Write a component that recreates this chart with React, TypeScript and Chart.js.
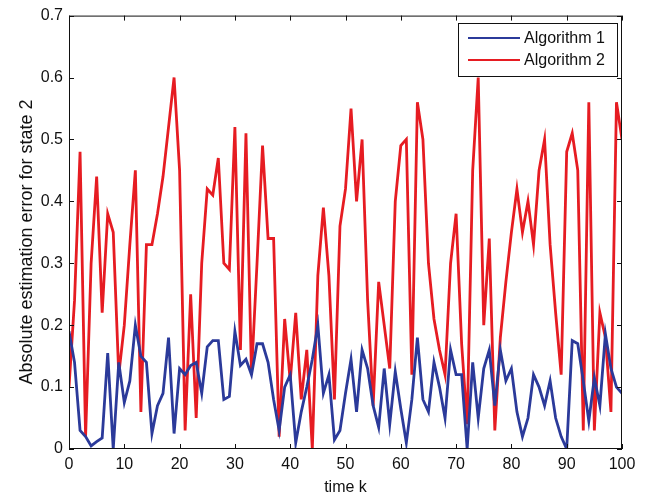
import React, { useEffect, useRef } from "react";
import { Chart, registerables } from "chart.js";

Chart.register(...registerables);

const seriesNames = ["Algorithm 1", "Algorithm 2"];
const seriesColors = ["#2b3a9a", "#e61c22"];

const algorithm1 = [
  0.19, 0.14, 0.03, 0.02, 0.005, 0.012, 0.018, 0.155, 0.0, 0.14,
  0.075, 0.11, 0.2, 0.15, 0.14, 0.025, 0.07, 0.09, 0.18, 0.025,
  0.13, 0.12, 0.135, 0.14, 0.09, 0.165, 0.175, 0.175, 0.08, 0.085,
  0.19, 0.135, 0.145, 0.12, 0.17, 0.17, 0.14, 0.08, 0.03, 0.1,
  0.12, 0.01, 0.06, 0.1, 0.145, 0.2, 0.09, 0.12, 0.015, 0.03,
  0.09, 0.145, 0.06, 0.16, 0.13, 0.07, 0.035, 0.13, 0.04, 0.125,
  0.065, 0.01, 0.08, 0.18, 0.08, 0.06, 0.14, 0.1, 0.05, 0.16,
  0.12, 0.12, 0.0, 0.14, 0.05, 0.13, 0.16, 0.07, 0.16, 0.11,
  0.13, 0.06, 0.02, 0.05, 0.12, 0.1, 0.07, 0.11, 0.05, 0.02,
  0.0, 0.175, 0.17, 0.11, 0.045, 0.115, 0.07, 0.186, 0.13, 0.1,
  0.09,
];

const algorithm2 = [
  0.1, 0.24, 0.48, 0.02, 0.3, 0.44, 0.22, 0.38, 0.35, 0.12,
  0.2, 0.33, 0.45, 0.06, 0.33, 0.33, 0.38, 0.44, 0.52, 0.6,
  0.45, 0.03, 0.25, 0.05, 0.3, 0.42, 0.41, 0.47, 0.3, 0.29,
  0.52, 0.16, 0.51, 0.12, 0.3, 0.49, 0.34, 0.34, 0.02, 0.21,
  0.11, 0.22, 0.08, 0.16, 0.0, 0.28, 0.39, 0.28, 0.08, 0.36,
  0.42, 0.55, 0.4, 0.5, 0.24, 0.07, 0.27, 0.2, 0.13, 0.4,
  0.49, 0.5, 0.12, 0.56, 0.5, 0.3, 0.21, 0.16, 0.12, 0.3,
  0.38, 0.17, 0.04, 0.45, 0.6, 0.2, 0.34, 0.03, 0.18, 0.27,
  0.35, 0.42, 0.35, 0.4, 0.33, 0.45, 0.5, 0.33, 0.22, 0.12,
  0.48, 0.51, 0.45, 0.03, 0.56, 0.03, 0.22, 0.18, 0.06, 0.56,
  0.5,
];

const xTicks = [0, 10, 20, 30, 40, 50, 60, 70, 80, 90, 100];
const yTicks = [0, 0.1, 0.2, 0.3, 0.4, 0.5, 0.6, 0.7];
const xTitle = "time k";
const yTitle = "Absolute estimation error for state 2";

const FONT = "'Liberation Sans', Arial, sans-serif";

const framePlugin = {
  id: "matlabFrame",
  afterDraw(chart: any) {
    const { ctx } = chart;
    ctx.save();
    ctx.translate(27, 242);
    ctx.rotate(-Math.PI / 2);
    ctx.font = `18px ${FONT}`;
    ctx.fillStyle = "#111";
    ctx.textAlign = "center";
    ctx.textBaseline = "middle";
    ctx.fillText(yTitle, 0, 0);
    ctx.restore();
  },
  afterDatasetsDraw(chart: any) {
    const { ctx, chartArea, scales } = chart;
    const { left, right, top, bottom } = chartArea;
    ctx.save();
    ctx.strokeStyle = "#111";
    ctx.lineWidth = 1;
    ctx.strokeRect(left + 0.5, top + 0.5, right - left - 1, bottom - top - 1);
    const tl = 5;
    ctx.beginPath();
    xTicks.forEach((v) => {
      const px = Math.round(scales.x.getPixelForValue(v)) + 0.5;
      ctx.moveTo(px, bottom);
      ctx.lineTo(px, bottom - tl);
      ctx.moveTo(px, top);
      ctx.lineTo(px, top + tl);
    });
    yTicks.forEach((v) => {
      const py = Math.round(scales.y.getPixelForValue(v)) + 0.5;
      ctx.moveTo(left, py);
      ctx.lineTo(left + tl, py);
      ctx.moveTo(right, py);
      ctx.lineTo(right - tl, py);
    });
    ctx.stroke();

    // legend box inside plot, top-right
    const bx = 458, by = 23, bw = 159, bh = 53;
    ctx.fillStyle = "#fff";
    ctx.fillRect(bx, by, bw, bh);
    ctx.strokeStyle = "#111";
    ctx.strokeRect(bx + 0.5, by + 0.5, bw, bh);
    ctx.font = `16px ${FONT}`;
    ctx.textBaseline = "middle";
    ctx.textAlign = "left";
    seriesNames.forEach((name, i) => {
      const cy = by + 15 + i * 22;
      ctx.strokeStyle = seriesColors[i];
      ctx.lineWidth = 2;
      ctx.beginPath();
      ctx.moveTo(bx + 10, cy);
      ctx.lineTo(bx + 62, cy);
      ctx.stroke();
      ctx.fillStyle = "#111";
      ctx.fillText(name, bx + 66, cy + 1);
    });
    ctx.restore();
  },
};

export default function App() {
  const ref = useRef<HTMLCanvasElement | null>(null);

  useEffect(() => {
    if (!ref.current) return;
    const toPoints = (arr: number[]) => arr.map((y, k) => ({ x: k, y }));
    const chart = new Chart(ref.current, {
      type: "line",
      data: {
        datasets: [
          {
            label: seriesNames[0],
            data: toPoints(algorithm1),
            borderColor: seriesColors[0],
            backgroundColor: seriesColors[0],
            borderWidth: 2.8,
            pointRadius: 0,
            tension: 0,
          },
          {
            label: seriesNames[1],
            data: toPoints(algorithm2),
            borderColor: seriesColors[1],
            backgroundColor: seriesColors[1],
            borderWidth: 2.8,
            pointRadius: 0,
            tension: 0,
          },
        ],
      },
      options: {
        animation: false,
        responsive: false,
        devicePixelRatio: 1,
        layout: { padding: { top: 13, right: 24, left: 0, bottom: 0 } },
        plugins: {
          legend: { display: false },
          tooltip: { enabled: false },
        },
        scales: {
          x: {
            type: "linear",
            min: 0,
            max: 100,
            afterFit: (s: any) => {
              s.height = 49;
            },
            afterBuildTicks: (s: any) => {
              s.ticks = xTicks.map((v) => ({ value: v }));
            },
            ticks: {
              color: "#111",
              font: { family: FONT, size: 16 },
              padding: 6,
              maxRotation: 0,
              autoSkip: false,
            },
            grid: { display: false, drawTicks: false, tickLength: 0 },
            border: { display: false },
            title: {
              display: true,
              text: xTitle,
              color: "#111",
              font: { family: FONT, size: 16 },
              padding: { top: 0, bottom: 1 },
            },
          },
          y: {
            type: "linear",
            min: 0,
            max: 0.7,
            afterFit: (s: any) => {
              s.width = 69;
            },
            afterBuildTicks: (s: any) => {
              s.ticks = yTicks.map((v) => ({ value: v }));
            },
            ticks: {
              color: "#111",
              font: { family: FONT, size: 16 },
              padding: 6,
              autoSkip: false,
              callback: (v: any) => String(Math.round(Number(v) * 10) / 10),
            },
            grid: { display: false, drawTicks: false, tickLength: 0 },
            border: { display: false },
            title: { display: false },
          },
        },
      },
      plugins: [framePlugin],
    });
    return () => chart.destroy();
  }, []);

  return (
    <div style={{ position: "fixed", left: 0, top: 0, width: 646, height: 498, background: "#fff" }}>
      <canvas ref={ref} width={646} height={498} style={{ display: "block" }} />
    </div>
  );
}
